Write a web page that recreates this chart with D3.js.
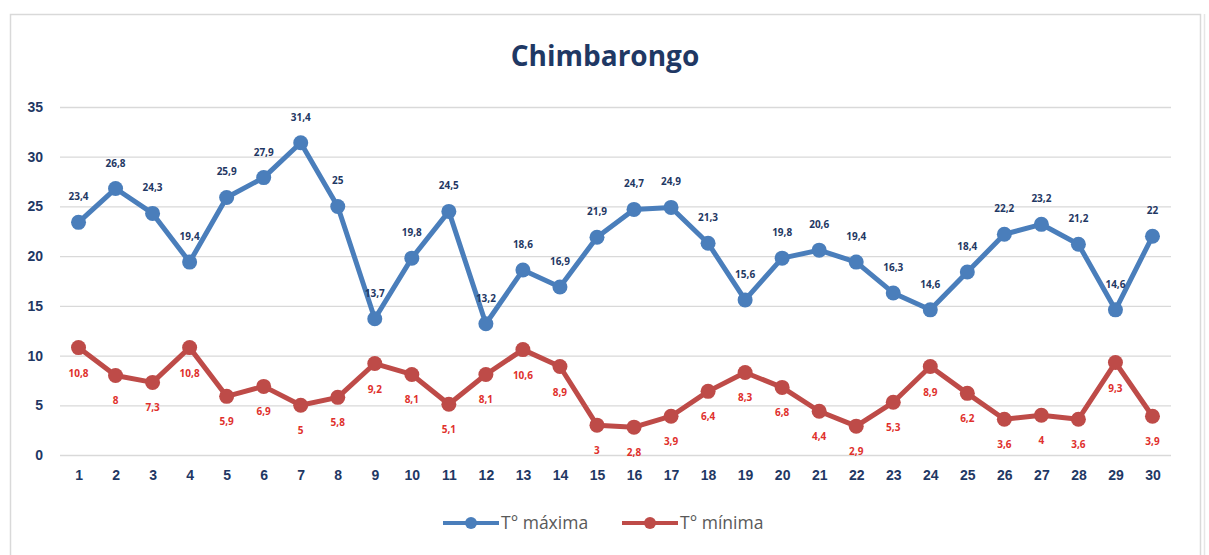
<!DOCTYPE html>
<html>
<head>
<meta charset="utf-8">
<script src="https://cdn.jsdelivr.net/npm/d3@7"></script>
<style>
  body { margin: 0; background: #fff; }
  svg { display: block; font-family: "Open Sans", "DejaVu Sans", sans-serif; }
  .grid line { stroke: #d9d9d9; stroke-width: 1.3; }
  .axis text { fill: #1f3864; font-weight: bold; font-size: 14px; }
  .lbl { font-size: 10px; font-weight: bold; text-anchor: middle; }
</style>
</head>
<body>
<div id="chart"></div>
<script>
// days of the month
var days = d3.range(1, 31).map(String);
var tMax = [23.4, 26.8, 24.3, 19.4, 25.9, 27.9, 31.4, 25, 13.7, 19.8,
            24.5, 13.2, 18.6, 16.9, 21.9, 24.7, 24.9, 21.3, 15.6, 19.8,
            20.6, 19.4, 16.3, 14.6, 18.4, 22.2, 23.2, 21.2, 14.6, 22];
var tMin = [10.8, 8, 7.3, 10.8, 5.9, 6.9, 5, 5.8, 9.2, 8.1,
            5.1, 8.1, 10.6, 8.9, 3, 2.8, 3.9, 6.4, 8.3, 6.8,
            4.4, 2.9, 5.3, 8.9, 6.2, 3.6, 4, 3.6, 9.3, 3.9];
var yTicks = [0, 5, 10, 15, 20, 25, 30, 35];

var width = 1209, height = 555;
var margin = {top: 107, right: 38, bottom: 100, left: 60};

var svg = d3.select("#chart").append("svg")
    .attr("width", width)
    .attr("height", height);

// chart frame
svg.append("rect")
    .attr("x", 10.5).attr("y", 14.5)
    .attr("width", 1190).attr("height", 600)
    .attr("fill", "#fff")
    .attr("stroke", "#d9d9d9")
    .attr("stroke-width", 1.5);
svg.append("line")
    .attr("x1", 1204.5).attr("x2", 1204.5)
    .attr("y1", 14).attr("y2", 555)
    .attr("stroke", "#e6e6e6").attr("stroke-width", 1.5);

svg.append("text")
    .attr("x", 605).attr("y", 66)
    .attr("text-anchor", "middle")
    .attr("font-size", "28px")
    .attr("font-weight", "bold")
    .attr("fill", "#1f3864")
    .text("Chimbarongo");

var xScale = d3.scalePoint()
    .domain(days)
    .range([margin.left, width - margin.right])
    .padding(0.5);

var yScale = d3.scaleLinear()
    .domain([0, 35])
    .range([height - margin.bottom, margin.top]);

// gridlines
svg.append("g")
    .attr("class", "grid")
    .attr("transform", "translate(" + margin.left + ",0)")
    .call(d3.axisLeft(yScale).tickValues(yTicks).tickSize(-(width - margin.right - margin.left)).tickFormat(""))
    .call(function(g) { g.select(".domain").remove(); });

// y axis labels
svg.append("g")
    .attr("class", "axis")
    .attr("transform", "translate(" + (margin.left - 14) + ",0)")
    .call(d3.axisLeft(yScale).tickValues(yTicks).tickSize(0))
    .call(function(g) { g.select(".domain").remove(); });

// x axis labels
svg.append("g")
    .attr("class", "axis")
    .attr("transform", "translate(0," + (height - margin.bottom + 12) + ")")
    .call(d3.axisBottom(xScale).tickSize(0))
    .call(function(g) { g.select(".domain").remove(); });

var fmt = function(v) { return String(v).replace(".", ","); };

var series = [
    {name: "T\u00b0 m\u00e1xima", values: tMax, color: "#4a7ebb", text: "#1f3864", dy: -22},
    {name: "T\u00b0 m\u00ednima", values: tMin, color: "#be4b48", text: "#e0302c", dy: 29}
];

var line = d3.line()
    .x(function(d, i) { return xScale(days[i]); })
    .y(function(d) { return yScale(d); });

series.forEach(function(s) {
    var g = svg.append("g");
    g.append("path")
        .datum(s.values)
        .attr("fill", "none")
        .attr("stroke", s.color)
        .attr("stroke-width", 5)
        .attr("stroke-linejoin", "round")
        .attr("d", line);

    g.selectAll("circle")
        .data(s.values)
        .enter().append("circle")
        .attr("cx", function(d, i) { return xScale(days[i]); })
        .attr("cy", function(d) { return yScale(d); })
        .attr("r", 7.5)
        .attr("fill", s.color);

    g.selectAll(".lbl")
        .data(s.values)
        .enter().append("text")
        .attr("class", "lbl")
        .attr("x", function(d, i) { return xScale(days[i]); })
        .attr("y", function(d) { return yScale(d) + s.dy; })
        .attr("fill", s.text)
        .text(fmt);
});

// legend
var legend = svg.append("g").attr("transform", "translate(443,523)");
var lx = [0, 179];
series.forEach(function(s, i) {
    var item = legend.append("g").attr("transform", "translate(" + lx[i] + ",0)");
    item.append("line")
        .attr("x1", 0).attr("x2", 56)
        .attr("stroke", s.color).attr("stroke-width", 4);
    item.append("circle")
        .attr("cx", 28).attr("r", 6).attr("fill", s.color);
    item.append("text")
        .attr("x", 58).attr("y", 6)
        .attr("font-size", "17.5px")
        .attr("fill", "#595959")
        .text(s.name);
});
</script>
</body>
</html>
